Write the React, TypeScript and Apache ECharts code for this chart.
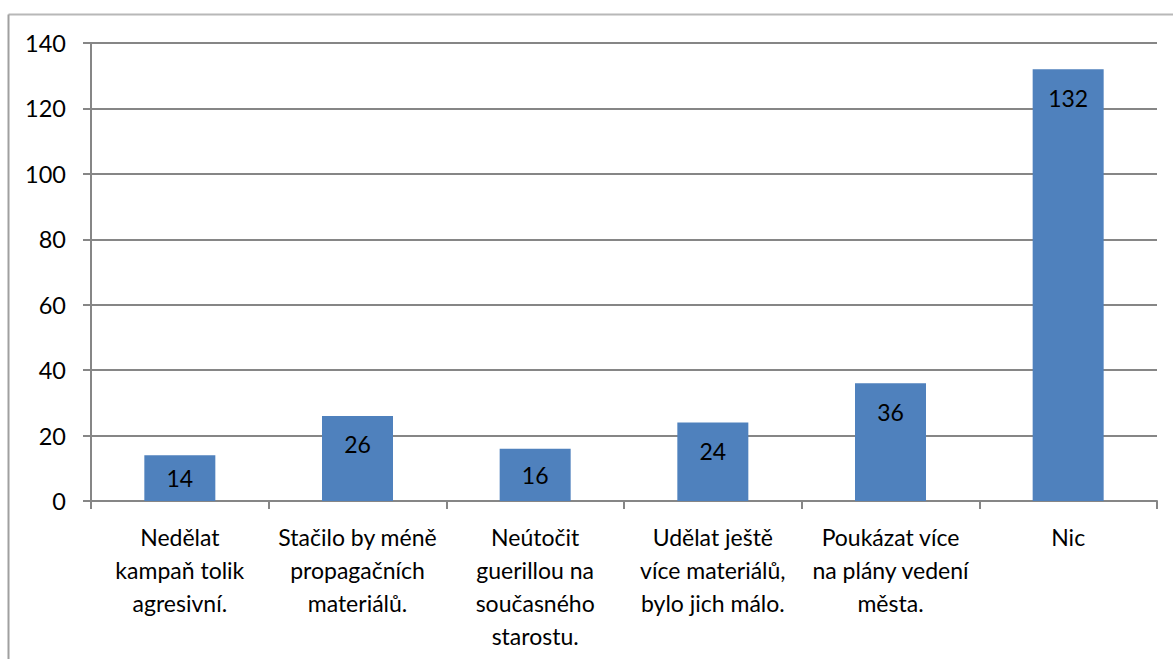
import React, { useEffect, useRef } from "react";
import * as echarts from "echarts";

const categories = [
  "Nedělat\nkampaň tolik\nagresivní.",
  "Stačilo by méně\npropagačních\nmateriálů.",
  "Neútočit\nguerillou na\nsoučasného\nstarostu.",
  "Udělat ještě\nvíce materiálů,\nbylo jich málo.",
  "Poukázat více\nna plány vedení\nměsta.",
  "Nic",
];
const values = [14, 26, 16, 24, 36, 132];
const yTicks = { min: 0, max: 140, interval: 20 };

const FONT = "Lato, 'Open Sans', sans-serif";

export default function App() {
  const ref = useRef<HTMLDivElement>(null);
  useEffect(() => {
    if (!ref.current) return;
    const chart = echarts.init(ref.current, undefined, { renderer: "svg" });
    chart.setOption({
      animation: false,
      backgroundColor: "#fff",
      textStyle: { fontFamily: FONT },
      graphic: [
        {
          type: "line",
          shape: { x1: 8.5, y1: 14.5, x2: 1173, y2: 14.5 },
          style: { stroke: "#b8b8b8", lineWidth: 2 },
        },
        {
          type: "line",
          shape: { x1: 8.5, y1: 14.5, x2: 8.5, y2: 659 },
          style: { stroke: "#a0a0a0", lineWidth: 2 },
        },
      ],
      grid: { left: 91, right: 16, top: 43, bottom: 158, containLabel: false },
      xAxis: {
        type: "category",
        data: categories,
        axisLine: { show: true, lineStyle: { color: "#868686", width: 2 } },
        axisTick: { show: true, alignWithLabel: false, length: 8, lineStyle: { color: "#868686", width: 2 } },
        axisLabel: {
          interval: 0,
          color: "#000",
          fontSize: 23,
          lineHeight: 33,
          margin: 19,
          fontFamily: FONT,
        },
      },
      yAxis: {
        type: "value",
        min: yTicks.min,
        max: yTicks.max,
        interval: yTicks.interval,
        axisLine: { show: true, lineStyle: { color: "#868686", width: 2 } },
        axisTick: { show: true, length: 8, lineStyle: { color: "#868686", width: 2 } },
        splitLine: { show: true, lineStyle: { color: "#868686", width: 2 } },
        axisLabel: { color: "#000", fontSize: 23.5, margin: 25, fontFamily: FONT },
      },
      series: [
        {
          type: "bar",
          data: values.map((v) => ({
            value: v,
            label: v < 20 ? { position: "inside" } : { position: "insideTop", distance: 17 },
          })),
          barWidth: 71,
          itemStyle: { color: "#4F81BD" },
          label: {
            show: true,
            color: "#000",
            fontSize: 23,
            fontFamily: FONT,
          },
        },
      ],
    });
    return () => chart.dispose();
  }, []);
  return (
    <div
      ref={ref}
      style={{ position: "fixed", left: 0, top: 0, width: 1173, height: 659 }}
    />
  );
}
